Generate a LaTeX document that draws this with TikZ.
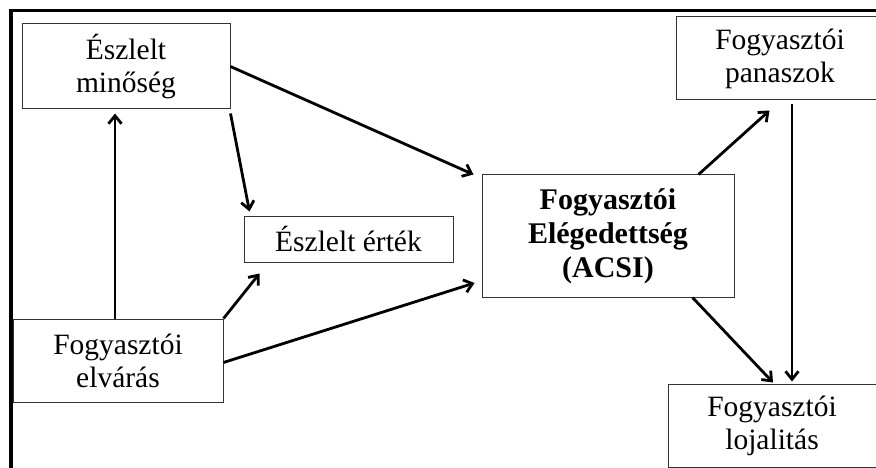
\documentclass[tikz,border=0pt]{standalone}
\usepackage{fontspec}
\setmainfont{Liberation Serif}
\usetikzlibrary{arrows.meta}
\begin{document}
\begin{tikzpicture}[x=1pt,y=-1pt,
  box/.style={draw=black!80,line width=1pt,fill=white,align=center,inner sep=0pt,
     font=\fontsize{29.5}{33}\selectfont,text=black},
  arr/.style={line width=2.8pt,-{Straight Barb[length=8pt,width=13pt,line width=2.8pt]}},
  framev/.style={line width=4.5pt},
  frameh/.style={line width=3.3pt}]
\useasboundingbox (0,0) rectangle (876,468);
\draw[framev] (11.2,9) -- (11.2,472);
\draw[frameh] (9,10.6) -- (880,10.6);
% boxes
\node[box,minimum width=208pt,minimum height=85pt] (qual) at (126,66.5) {Észlelt\\minőség};
\node[box,minimum width=208pt,minimum height=83pt] (pan) at (780,58.5) {Fogyasztói\\panaszok};
\node[box,minimum width=210pt,minimum height=83pt] (exp) at (118,360.5) {Fogyasztói\\elvárás};
\node[box,minimum width=208pt,minimum height=83pt] (loj) at (772,425.5) {Fogyasztói\\lojalitás};
\node[box,minimum width=209pt,minimum height=46pt] (val) at (348.5,239) {Észlelt érték};
\node[box,minimum width=252pt,minimum height=122pt,font=\fontsize{30}{34}\selectfont\bfseries] (acsi) at (608,236) {Fogyasztói\\Elégedettség\\(ACSI)};
% connectors
\draw[arr] ([xshift=-3pt]exp.north) -- ([xshift=-11pt,yshift=-4pt]qual.south);
\draw[arr] ([yshift=-4pt]qual.south east) -- ([xshift=6pt,yshift=4pt]val.north west);
\draw[arr] (qual.east) -- ([xshift=-8pt]acsi.north west);
\draw[arr] (exp.north east) -- ([xshift=16pt,yshift=-11pt]val.south west);
\draw[arr] ([yshift=-2pt]exp.east) -- ([xshift=-7pt,yshift=-47pt]acsi.west);
\draw[arr] ([xshift=-36pt]acsi.north east) -- ([xshift=94pt,yshift=-10pt]pan.south west);
\draw[arr] ([xshift=12pt,yshift=-4pt]pan.south) -- ([xshift=20pt,yshift=2pt]loj.north);
\draw[arr] ([xshift=-42pt]acsi.south east) -- ([xshift=1pt,yshift=1pt]loj.north);
\end{tikzpicture}
\end{document}
